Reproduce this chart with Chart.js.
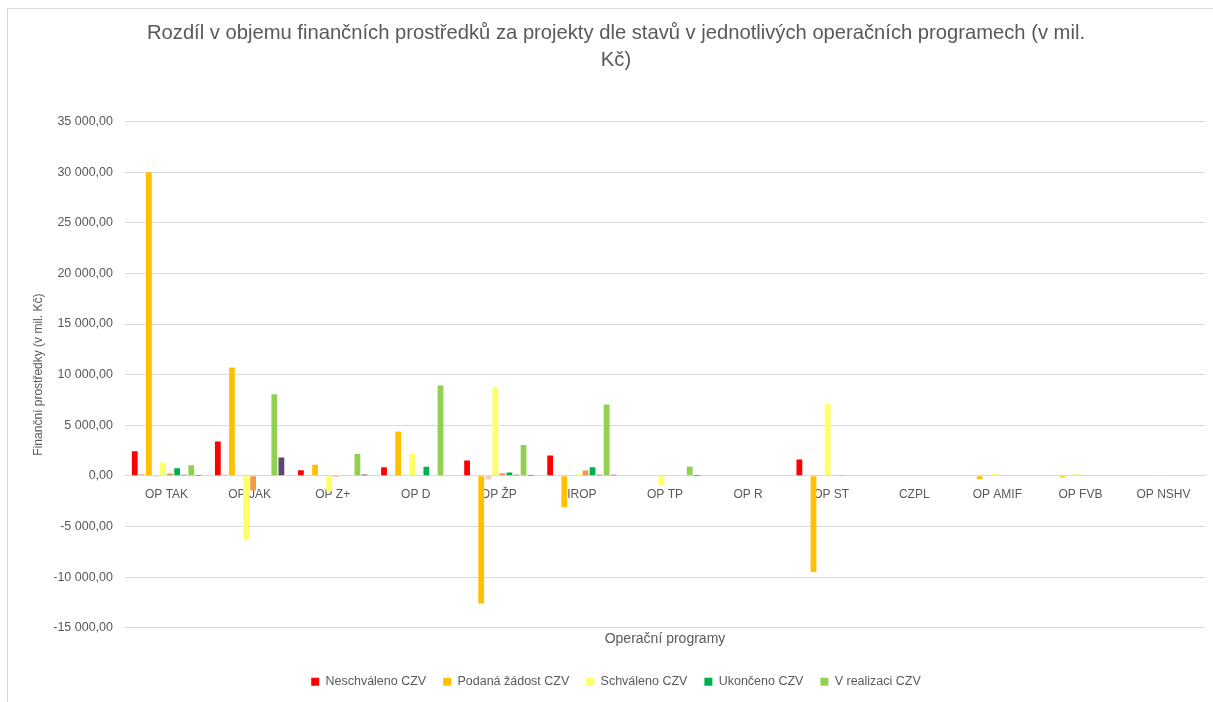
<!DOCTYPE html>
<html>
<head>
<meta charset="utf-8">
<script src="https://cdn.jsdelivr.net/npm/chart.js@4.4.1/dist/chart.umd.min.js"></script>
<style>
  html, body { margin: 0; padding: 0; background: #fff; overflow: hidden; }
  #frame { position: absolute; left: 7px; top: 8px; width: 1300px; height: 800px; border: 1px solid #d9d9d9; box-sizing: border-box; }
  #wrap { position: absolute; left: 0; top: 0; width: 1213px; height: 702px; }
</style>
</head>
<body>
<div id="frame"></div>
<div id="wrap"><canvas id="c" width="1213" height="702"></canvas></div>
<script>
const categories = ['OP TAK', 'OP JAK', 'OP Z+', 'OP D', 'OP ŽP', 'IROP', 'OP TP', 'OP R', 'OP ST', 'CZPL', 'OP AMIF', 'OP FVB', 'OP NSHV'];

const neschvalenoCZV   = [2430, 3390, 560, 850, 1510, 2010, 0, 0, 1610, 0, 0, 0, 0];
const neschvaleno      = [130, 30, 0, 0, 0, 0, 0, 0, 0, 0, 0, 0, 0];
const podanaZadostCZV  = [30000, 10700, 1090, 4380, -12600, -3100, 30, 0, -9490, -40, -330, -160, 0];
const podanaZadost     = [-100, 0, 0, 0, -330, -50, -40, 0, 0, 0, 0, 0, 0];
const schvalenoCZV     = [1310, -6270, -1550, 2170, 8760, 160, -960, 0, 7110, 0, 200, 160, 30];
const schvaleno        = [230, -1450, -100, 0, 260, 530, -30, 0, 0, 0, 0, 0, 0];
const ukoncenoCZV      = [750, 50, -30, 890, 330, 850, 0, 0, 40, 0, 0, 0, 0];
const ukonceno         = [120, 0, 0, 0, 100, 100, 0, 0, 0, 0, 0, 0, 0];
const vRealizaciCZV    = [1050, 8060, 2170, 8920, 3060, 7040, 920, 0, 0, 0, 0, 50, 0];
const vRealizaci       = [20, 1810, 130, 0, 20, 100, 20, 0, 0, 0, 0, 0, 0];

const yTicks = { min: -15000, max: 35000, step: 5000 };
const legendSeries = ['Neschváleno CZV', 'Podaná žádost CZV', 'Schváleno CZV', 'Ukončeno CZV', 'V realizaci CZV'];

const FONT = '"Liberation Sans", Arial, sans-serif';
const TXT = '#595959';

const series = [
  ['Neschváleno CZV', neschvalenoCZV, '#FF0000'],
  ['Neschváleno', neschvaleno, '#FF7C80'],
  ['Podaná žádost CZV', podanaZadostCZV, '#FFC000'],
  ['Podaná žádost', podanaZadost, '#F8CBAD'],
  ['Schváleno CZV', schvalenoCZV, '#FFFF66'],
  ['Schváleno', schvaleno, '#F79646'],
  ['Ukončeno CZV', ukoncenoCZV, '#00B050'],
  ['Ukončeno', ukonceno, '#A5524E'],
  ['V realizaci CZV', vRealizaciCZV, '#92D050'],
  ['V realizaci', vRealizaci, '#5B4A6E']
];

function fmt(v) {
  const neg = v < 0;
  const s = Math.abs(v).toFixed(2).split('.');
  const int = s[0].replace(/\B(?=(\d{3})+(?!\d))/g, ' ');
  return (neg ? '-' : '') + int + ',' + s[1];
}

new Chart(document.getElementById('c'), {
  type: 'bar',
  data: {
    labels: categories,
    datasets: series.map(([label, data, color]) => ({
      label, data, backgroundColor: color, borderWidth: 0,
      categoryPercentage: 0.85, barPercentage: 0.82
    }))
  },
  options: {
    responsive: false,
    animation: false,
    devicePixelRatio: 1,
    layout: { padding: { left: 27, right: 8, top: 8, bottom: 4 } },
    plugins: {
      tooltip: { enabled: false },
      title: {
        display: true,
        text: ['Rozdíl v objemu finančních prostředků za projekty dle stavů v jednotlivých operačních programech (v mil.', 'Kč)'],
        color: TXT,
        font: { family: FONT, size: 20.2, weight: 'normal', lineHeight: 1.35 },
        padding: { top: 12, bottom: 47 }
      },
      legend: {
        position: 'bottom',
        labels: {
          filter: (item) => legendSeries.includes(item.text),
          boxWidth: 8, boxHeight: 8,
          color: TXT,
          font: { family: FONT, size: 12.5 },
          padding: 17
        }
      }
    },
    scales: {
      x: {
        position: { y: 0 },
        grid: { display: false, drawTicks: false },
        border: { display: true, color: '#d9d9d9' },
        ticks: { color: TXT, font: { family: FONT, size: 12 }, padding: 12, autoSkip: false, maxRotation: 0 }
      },
      xTitle: {
        type: 'category',
        labels: categories,
        position: 'bottom',
        grid: { display: false, drawTicks: false },
        border: { display: false },
        ticks: { display: false },
        title: { display: true, text: 'Operační programy', color: TXT, font: { family: FONT, size: 14 }, padding: { top: 3, bottom: 11 } }
      },
      y: {
        min: yTicks.min, max: yTicks.max,
        afterFit: (s) => { s.width = 98; },
        grid: { color: '#d9d9d9', drawTicks: false },
        border: { display: false },
        ticks: { stepSize: yTicks.step, color: TXT, font: { family: FONT, size: 12.5 }, padding: 12, callback: (v) => fmt(v) },
        title: { display: true, text: 'Finanční prostředky (v mil. Kč)', color: TXT, font: { family: FONT, size: 12 }, padding: { top: 4, bottom: 0 } }
      }
    }
  }
});
</script>
</body>
</html>
